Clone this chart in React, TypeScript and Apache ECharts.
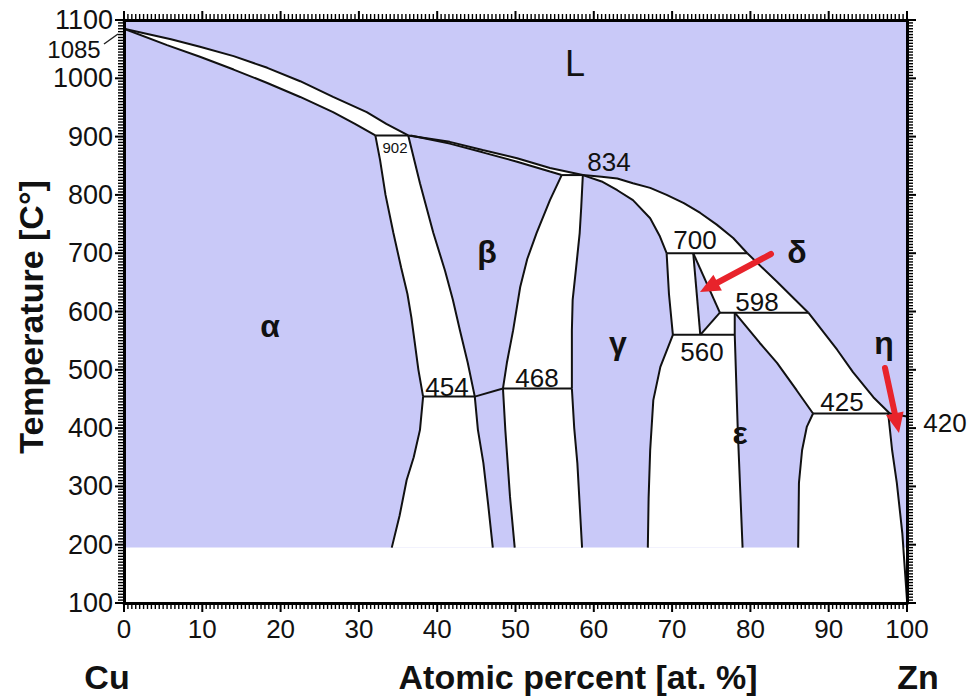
import React, { useEffect, useRef } from "react";
import * as echarts from "echarts";

// ---- phase boundaries [at.% Zn, °C] ----
const liquidusA = [[0,1085],[3,1076],[6,1067],[9.7,1054],[14,1038],[18.3,1018],[22.5,995],[26.7,968],[31,942],[33.5,922],[36.3,902]];
const solidusAlpha = [[0,1085],[5.5,1057],[9.7,1037],[14,1015],[18.3,992],[22.5,968],[26.7,942],[29.5,922],[32.1,902]];
const liquidusB = [[36.3,902],[41.6,891],[45.8,877],[50.2,863],[54.4,846],[58.6,834]];
const solidusBeta = [[36.6,902],[41.6,888],[45.8,873],[50.2,857],[54.4,840],[55.9,834]];
const liquidusC = [[58.6,834],[61,831],[63,828],[65,820],[67.2,812],[69.3,800],[71.5,786],[73.6,769],[75.7,749],[77.8,726],[79.6,700]];
const solidusGamma = [[58.6,834],[61,823],[63,808],[65,791],[67.2,760],[68.4,730],[69.3,700]];
const liquidusD = [[79.6,700],[83.4,651],[87.4,598]];
const liquidusE = [[87.4,598],[91.1,534],[93.1,496],[95.7,453],[97.8,425]];
const liquidusF = [[97.8,425],[100,420]];
const alphaSolvus = [[32.1,902],[32.7,860],[33.4,800],[34.4,735],[35.4,675],[36.2,630],[36.7,590],[37.1,550],[37.6,500],[38.2,454]];
const alphaSolvusLow = [[38.2,454],[37.8,397],[37,350],[36.1,311],[35.2,250],[34.2,195]];
const betaSolvus = [[36.3,902],[37.8,820],[39.5,735],[41,670],[42,620],[42.9,568],[43.9,512],[44.8,454]];
const betaPrime = [[44.8,454],[45.2,397],[45.9,340],[46.5,270],[47.1,195]];
const orderLine = [[44.8,454],[48.4,468]];
const bgLeftUpper = [[55.9,834],[54.4,791],[52.7,735],[51.5,690],[50.6,642],[49.7,568],[48.9,512],[48.4,468]];
const bgLeftLower = [[48.4,468],[48.7,397],[49.3,282],[49.9,195]];
const gammaRightUpper = [[58.6,834],[58.4,780],[58.2,735],[57.7,670],[57.3,620],[57.2,568],[57.2,468]];
const gammaRightLower = [[57.2,468],[57.5,400],[57.9,340],[58.5,195]];
const gammaDelta = [[69.3,700],[69.6,630],[70.1,560]];
const deltaLeft = [[72.7,700],[73.6,560]];
const deltaRight = [[72.7,700],[76.1,598]];
const deltaBottom = [[76.1,598],[73.6,560]];
const epsLeft = [[78,598],[78,560],[78.4,392],[79,195]];
const epsSolidus = [[78,598],[81.2,546],[83.4,512],[85.9,465],[88,425]];
const epsSolvus = [[88,425],[87.2,402],[86.6,362],[86.2,306],[86.1,195]];
const etaLine = [[97.6,425],[98.1,362],[98.7,306],[99.4,220],[100,105]];
const gammaEps = [[70.1,560],[68.5,505],[67.6,448],[67.2,362],[67,280],[66.9,195]];

// isotherms
const iso902 = [[32.1,902],[36.3,902]];
const iso834 = [[55.9,834],[58.6,834]];
const iso700 = [[69.3,700],[79.6,700]];
const iso598 = [[76.1,598],[87.4,598]];
const iso560 = [[70.1,560],[78,560]];
const iso454 = [[38.2,454],[44.8,454]];
const iso468 = [[48.4,468],[57.2,468]];
const iso425 = [[88,425],[97.8,425]];

const shadedField = [[0,195],[100,195],[100,1100],[0,1100]];

const xRange = { min: 0, max: 100, interval: 10 };
const yRange = { min: 100, max: 1100, interval: 100 };
const xMinorStep = 0.5;
const yMinorStep = 5;

const rev = (a: number[][]) => a.slice().reverse();

const twoPhase = [
  [...liquidusA, ...rev(solidusAlpha)],
  [...liquidusB, ...rev(solidusBeta)],
  [...liquidusC, ...rev(solidusGamma)],
  [...alphaSolvus, ...rev(betaSolvus)],
  [...alphaSolvusLow, ...rev(betaPrime)],
  [...bgLeftUpper, ...rev(gammaRightUpper)],
  [...bgLeftLower, ...rev(gammaRightLower)],
  [...gammaDelta, ...rev(deltaLeft)],
  [...deltaRight, ...rev(liquidusD)],
  [...rev(deltaBottom), ...epsLeft.slice(0, 2)],
  [...gammaEps, ...rev(epsLeft.slice(1))],
  [...epsSolidus, ...rev(liquidusE)],
  [...epsSolvus, ...rev(etaLine)],
];

const boundaryLines = [
  liquidusA, solidusAlpha, liquidusB, solidusBeta, liquidusC, solidusGamma, liquidusD, liquidusE, liquidusF,
  alphaSolvus, alphaSolvusLow, betaSolvus, betaPrime, orderLine, bgLeftUpper, bgLeftLower,
  gammaRightUpper, gammaRightLower, gammaDelta, deltaLeft, deltaRight, deltaBottom, epsLeft,
  epsSolidus, epsSolvus, etaLine, gammaEps,
  iso902, iso834, iso700, iso598, iso560, iso454, iso468, iso425,
];

// tick marks (axis decoration): [value, kind] kind 0=x major,1=x minor,2=y major,3=y minor
const tickItems: number[][] = [];
for (let i = 0; i <= (xRange.max - xRange.min) / xMinorStep; i++) {
  const v = xRange.min + i * xMinorStep;
  tickItems.push([v, Math.abs(v / xRange.interval - Math.round(v / xRange.interval)) < 1e-6 ? 0 : 1]);
}
for (let i = 0; i <= (yRange.max - yRange.min) / yMinorStep; i++) {
  const v = yRange.min + i * yMinorStep;
  tickItems.push([v, Math.abs(v / yRange.interval - Math.round(v / yRange.interval)) < 1e-6 ? 2 : 3]);
}

const FONT = "Arial, 'Liberation Sans', sans-serif";
const PURPLE = "#c9c9f8";

function arrow(x1: number, y1: number, x2: number, y2: number) {
  const dx = x2 - x1, dy = y2 - y1;
  const L = Math.hypot(dx, dy);
  const ux = dx / L, uy = dy / L;
  const hl = 20, hw = 9;
  const bx = x2 - ux * hl, by = y2 - uy * hl;
  const px = -uy, py = ux;
  return [
    { type: "line", shape: { x1, y1, x2: bx + ux * 2, y2: by + uy * 2 }, style: { stroke: "#e8232b", lineWidth: 6, lineCap: "round" }, z: 100 },
    { type: "polygon", shape: { points: [[x2, y2], [bx + px * hw, by + py * hw], [bx - px * hw, by - py * hw]] }, style: { fill: "#e8232b" }, z: 100 },
  ];
}

function txt(text: string, x: number, y: number, size: number, weight: string = "normal", extra: any = {}) {
  return {
    type: "text", x, y, z: 100,
    style: { text, fill: "#111", font: `${weight} ${size}px ${FONT}`, textAlign: "center", textVerticalAlign: "middle" },
    ...extra,
  };
}

export default function App() {
  const ref = useRef<HTMLDivElement>(null);
  useEffect(() => {
    if (!ref.current) return;
    const chart = echarts.init(ref.current, undefined, { renderer: "svg" });
    const axisCommon: any = {
      type: "value",
      z: 10,
      axisLine: { show: true, onZero: false, lineStyle: { color: "#000", width: 3 } },
      axisTick: { show: false },
      minorTick: { show: false },
      splitLine: { show: false },
    };
    const regions = [shadedField, ...twoPhase];
    const option: any = {
      animation: false,
      backgroundColor: "#fff",
      grid: { left: 124, top: 20, width: 783, height: 583, containLabel: false },
      xAxis: [
        { ...axisCommon, position: "bottom", ...xRange,
          axisLabel: { fontSize: 26, color: "#111", fontFamily: FONT, margin: 13, formatter: (v: number) => String(v) } },
        { ...axisCommon, position: "top", ...xRange, axisLabel: { show: false } },
      ],
      yAxis: [
        { ...axisCommon, position: "left", ...yRange,
          axisLabel: { fontSize: 27, color: "#111", fontFamily: FONT, margin: 11, formatter: (v: number) => String(v) } },
        { ...axisCommon, position: "right", ...yRange, axisLabel: { show: false } },
      ],
      series: [
        {
          type: "custom",
          xAxisIndex: 0, yAxisIndex: 0,
          silent: true,
          data: regions.map((r) => [r[0][0], r[0][1]]),
          renderItem: (params: any, api: any) => {
            const idx = params.dataIndex;
            const pts = regions[idx].map((p) => api.coord(p));
            return { type: "polygon", shape: { points: pts }, style: { fill: idx === 0 ? PURPLE : "#ffffff" } };
          },
          z: 1,
        },
        ...boundaryLines.map((d) => ({
          type: "line",
          xAxisIndex: 0, yAxisIndex: 0,
          data: d,
          showSymbol: false,
          silent: true,
          lineStyle: { color: "#111", width: 2 },
          z: 3,
        })),
        {
          type: "custom",
          xAxisIndex: 0, yAxisIndex: 0,
          silent: true,
          clip: false,
          data: tickItems.map((t) => [t[1] < 2 ? t[0] : 0, t[1] < 2 ? 100 : t[0]]),
          renderItem: (params: any, api: any) => {
            const [v, kind] = tickItems[params.dataIndex];
            const major = kind === 0 || kind === 2;
            const len = major ? 9 : 6;
            const st = { stroke: "#000", lineWidth: major ? 2 : 1.4 };
            if (kind < 2) {
              const b = api.coord([v, yRange.min]);
              const t = api.coord([v, yRange.max]);
              return { type: "group", children: [
                { type: "line", shape: { x1: b[0], y1: b[1], x2: b[0], y2: b[1] + len }, style: st },
                { type: "line", shape: { x1: t[0], y1: t[1], x2: t[0], y2: t[1] - len }, style: st },
              ] };
            }
            const l = api.coord([xRange.min, v]);
            const r = api.coord([xRange.max, v]);
            return { type: "group", children: [
              { type: "line", shape: { x1: l[0], y1: l[1], x2: l[0] - len, y2: l[1] }, style: st },
              { type: "line", shape: { x1: r[0], y1: r[1], x2: r[0] + len, y2: r[1] }, style: st },
            ] };
          },
          z: 8,
        },
      ],
      graphic: [
        txt("L", 575, 63, 36),
        txt("α", 270, 326, 32, "bold"),
        txt("β", 487, 252, 32, "bold"),
        txt("γ", 618, 343, 32, "bold"),
        txt("δ", 797, 252, 32, "bold"),
        txt("ε", 740, 433, 32, "bold"),
        txt("η", 884, 343, 32, "bold"),
        txt("902", 395, 147, 15),
        txt("834", 609, 162, 26),
        txt("700", 695, 240, 26),
        txt("598", 757, 302, 26),
        txt("560", 702, 352, 26),
        txt("454", 447, 387, 26),
        txt("468", 537, 378, 26),
        txt("425", 842, 402, 26),
        txt("420", 945, 423, 26),
        txt("1085", 74, 49, 24),
        { type: "line", shape: { x1: 104, y1: 44, x2: 118, y2: 34 }, style: { stroke: "#222", lineWidth: 1.5 }, z: 100 },
        txt("Temperature [C°]", 31, 317, 34, "bold", { rotation: Math.PI / 2 }),
        txt("Cu", 107, 677, 34, "bold"),
        txt("Atomic percent [at. %]", 578, 677, 34, "bold"),
        txt("Zn", 918, 677, 34, "bold"),
        ...arrow(771, 254, 700, 292),
        ...arrow(885, 368, 899, 433),
      ],
    };
    chart.setOption(option);
    return () => chart.dispose();
  }, []);
  return <div ref={ref} style={{ position: "fixed", left: 0, top: 0, width: 973, height: 696 }} />;
}
